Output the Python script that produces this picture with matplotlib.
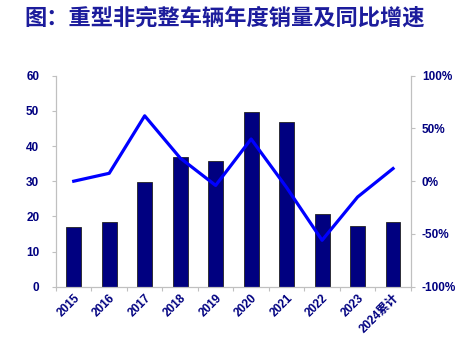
import matplotlib
matplotlib.use('Agg')
from matplotlib import pyplot as plt
import numpy as np

plt.rcParams['font.family'] = ['Liberation Sans', 'Noto Sans CJK SC', 'DejaVu Sans']

years = ['2015', '2016', '2017', '2018', '2019', '2020', '2021', '2022', '2023', '2024累计']
sales = [17.0, 18.3, 29.7, 37.0, 35.7, 49.7, 46.8, 20.6, 17.4, 18.3]      # 万辆
growth = [0.0, 7.5, 62.0, 22.0, -4.0, 40.0, -6.0, -56.0, -15.0, 12.0]     # %

navy = '#000080'
x = np.arange(len(years))

fig = plt.figure(figsize=(4.6, 3.56), dpi=100)
ax = fig.add_axes([0.1217, 0.1947, 0.7713, 0.5926])
ax.bar(x, sales, width=0.42, color=navy, edgecolor='#222222', linewidth=0.6, zorder=2)
ax.set_ylim(0, 60)
ax.set_xlim(-0.5, len(years) - 0.5)
ax.set_yticks(range(0, 61, 10))

ax2 = ax.twinx()
ax2.plot(x, growth, color='#0000ff', linewidth=2.3, zorder=3)
ax2.set_ylim(-100, 100)
ax2.set_yticks(range(-100, 101, 50))
ax2.set_yticklabels([f'{v}%' for v in range(-100, 101, 50)])

for a in (ax, ax2):
    for s in a.spines.values():
        s.set_color('#c0c0c0')
    a.spines['top'].set_visible(False)
    a.tick_params(colors='#c0c0c0', labelcolor=navy, labelsize=8.5, length=3)
    for lab in a.get_yticklabels():
        lab.set_fontweight('bold')
ax.tick_params(axis='y', pad=9)
ax2.tick_params(axis='y', pad=5)

ax.set_xticks(np.arange(-0.5, len(years), 1.0))
ax.set_xticklabels([])
ax.set_xticks(x, minor=True)
ax.set_xticklabels(years, minor=True, rotation=45, ha='right', rotation_mode='anchor',
                   fontsize=8.5, fontweight='bold', color=navy)
ax.tick_params(axis='x', which='minor', length=0, pad=4)

fig.text(0.052, 0.95, '图：重型非完整车辆年度销量及同比增速', fontsize=16, fontweight='bold',
         color='#1c1c9c', ha='left', va='center', family=['Noto Sans CJK SC'])

plt.savefig('out.png', dpi=100)
